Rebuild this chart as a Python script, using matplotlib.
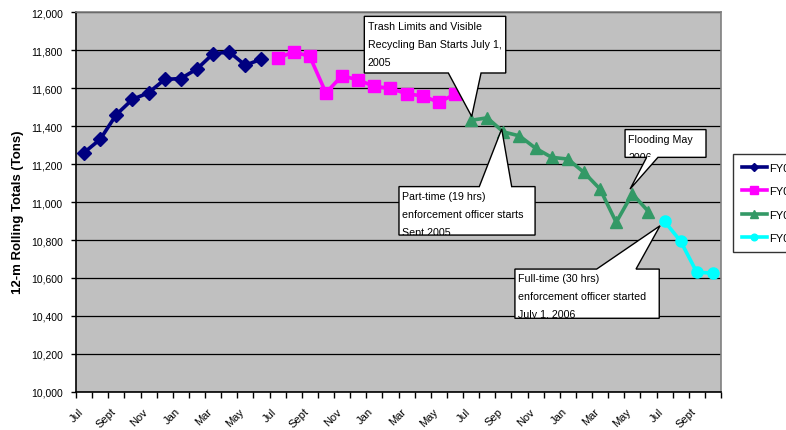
import matplotlib
matplotlib.use("Agg")
import matplotlib.pyplot as plt
from matplotlib.patches import Polygon
from matplotlib.transforms import Bbox, TransformedBbox, ScaledTranslation
from matplotlib import font_manager
import numpy as np

# months Jul 2003 .. Oct 2006
months = ["Jul", "Aug", "Sept", "Oct", "Nov", "Dec", "Jan", "Feb", "Mar", "Apr", "May", "Jun",
          "Jul", "Aug", "Sept", "Oct", "Nov", "Dec", "Jan", "Feb", "Mar", "Apr", "May", "Jun",
          "Jul", "Aug", "Sep", "Oct", "Nov", "Dec", "Jan", "Feb", "Mar", "Apr", "May", "Jun",
          "Jul", "Aug", "Sept", "Oct"]

fy04 = [11260, 11330, 11460, 11540, 11575, 11645, 11650, 11700, 11780, 11790, 11720, 11752]
fy05 = [11756, 11791, 11766, 11574, 11665, 11642, 11609, 11598, 11570, 11558, 11525, 11567]
fy06 = [11430, 11443, 11369, 11348, 11283, 11235, 11226, 11156, 11068, 10893, 11043, 10950]
fy07 = [10898, 10793, 10630, 10626]

series = [
    ("FY04", fy04, 0, "#000080", "D", 7.5),
    ("FY05", fy05, 12, "#FF00FF", "s", 8.5),
    ("FY06", fy06, 24, "#339966", "^", 9),
    ("FY07", fy07, 36, "#00FFFF", "o", 8),
]

# callouts: (text, box left, right, top, bottom, pointer base x1, x2, tip x, tip y)
callouts = [
    ("Trash Limits and Visible\nRecycling Ban Starts July 1,\n2005",
     17.38, 26.15, 11977, 11679, 22.59, 24.62, 24.04, 11450),
    ("Part-time (19 hrs)\nenforcement officer starts\nSept 2005",
     19.53, 27.97, 11081, 10826, 24.51, 26.52, 25.90, 11384),
    ("Flooding May\n2006",
     33.55, 38.57, 11381, 11235, 34.89, 35.59, 33.86, 11068),
    ("Full-time (30 hrs)\nenforcement officer started\nJuly 1, 2006",
     26.72, 35.67, 10647, 10388, 31.79, 34.23, 35.72, 10875),
]

plt.rcParams['font.family'] = ['Liberation Sans', 'DejaVu Sans']

# narrow font for the callouts if one is installed
installed = {f.name for f in font_manager.fontManager.ttflist}
note_font, note_size, note_ls = 'Liberation Sans', 7.7, 2.0
for cand in ['Liberation Sans Narrow', 'Arial Narrow', 'DejaVu Sans Condensed']:
    if cand in installed:
        note_font, note_size, note_ls = cand, 9.5, 1.6
        break

fig = plt.figure(figsize=(7.86, 4.31), dpi=100)
ax = fig.add_axes([76/786, 38/431, 645/786, 380/431])
ax.set_facecolor("#C0C0C0")

for name, vals, start, col, mk, ms in series:
    x = np.arange(start, start + len(vals))
    ax.plot(x, vals, color=col, lw=2.6, marker=mk, ms=ms, label=name, zorder=3)

ax.set_xlim(-0.5, len(months) - 0.5)
ax.set_ylim(10000, 12000)
ax.set_yticks(np.arange(10000, 12001, 200))
ax.set_yticklabels([f"{v:,}" for v in range(10000, 12001, 200)], fontsize=7.5)
ax.yaxis.grid(True, color="black", lw=0.9)
ax.set_axisbelow(True)

ax.set_xticks(np.arange(-0.5, len(months)), minor=False)
ax.set_xticklabels([])
ax.set_xticks(np.arange(0, len(months), 2), minor=True)
ax.set_xticklabels(months[::2], minor=True, rotation=45, ha="right",
                   rotation_mode="anchor", fontsize=8)
ax.tick_params(axis="x", which="minor", length=0, pad=10)
ax.tick_params(axis="x", which="major", length=4, width=1, color="black")
ax.tick_params(axis="y", length=3.5, width=1, color="black", pad=6)
# nudge month labels left, after tick_params (which resets transforms)
shift = ScaledTranslation(-6/100, 0, fig.dpi_scale_trans)
for lab in ax.get_xticklabels(minor=True):
    lab.set_transform(lab.get_transform() + shift)

for s in ["top", "right"]:
    ax.spines[s].set_color("#808080")
    ax.spines[s].set_linewidth(1.2)
for s in ["left", "bottom"]:
    ax.spines[s].set_color("black")
    ax.spines[s].set_linewidth(1.2)

fig.text(18/786, 1 - 212/431, "12-m Rolling Totals (Tons)", rotation=90,
         ha="center", va="center", fontsize=9.5, fontweight="bold")

for txt, l, r, t, b, b1, b2, tx, ty in callouts:
    if ty < b:
        pts = [(l, t), (r, t), (r, b), (b2, b), (tx, ty), (b1, b), (l, b)]
    else:
        pts = [(l, t), (b1, t), (tx, ty), (b2, t), (r, t), (r, b), (l, b)]
    poly = Polygon(pts, closed=True, facecolor="white", edgecolor="black",
                   lw=1, zorder=5, clip_on=False)
    ax.add_patch(poly)
    tt = ax.text(l + 0.2, t - 22, txt, ha="left", va="top", fontsize=note_size,
                 family=[note_font, 'Liberation Sans'],
                 linespacing=note_ls, zorder=6)
    tt.set_clip_on(True)
    tt.set_clip_path(None)
    tt.set_clip_box(TransformedBbox(Bbox([[l, b], [r, t]]), ax.transData))

leg = fig.legend(loc="upper left", bbox_to_anchor=(733/786, 1 - 155/431),
                 fontsize=8, frameon=True, fancybox=False, edgecolor="black",
                 handlelength=2.3, markerscale=0.6, borderpad=0.78, labelspacing=1.22,
                 handletextpad=0.15, borderaxespad=0)
leg.get_frame().set_linewidth(1)

fig.savefig("out.png", dpi=100)
